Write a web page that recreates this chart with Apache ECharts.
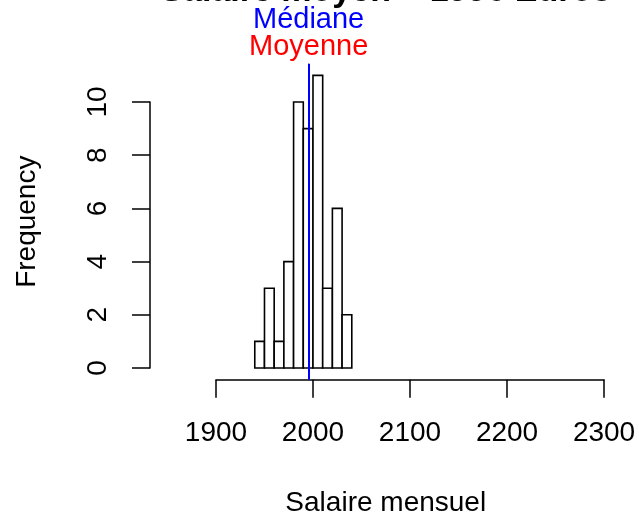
<!DOCTYPE html>
<html>
<head>
<meta charset="utf-8">
<script src="https://cdn.jsdelivr.net/npm/echarts@6/dist/echarts.min.js"></script>
<style>
  html, body { margin: 0; padding: 0; background: #fff; }
  #chart { width: 639px; height: 515px; }
</style>
</head>
<body>
<div id="chart"></div>
<script>
// Histogram of monthly salaries (bins of 10 euros)
const binEdges = [1940, 1950, 1960, 1970, 1980, 1990, 2000, 2010, 2020, 2030, 2040];
const counts = [1, 3, 1, 4, 10, 9, 11, 3, 6, 2];
const meanSalaire = 1995.5;
const medianSalaire = 1995.5;
const xTicks = [1900, 2000, 2100, 2200, 2300];
const yTicks = [0, 2, 4, 6, 8, 10];

const FONT = '"Liberation Sans", Arial, Helvetica, sans-serif';

const histData = counts.map((c, i) => [binEdges[i], binEdges[i + 1], c]);

// plotting region (data range with 4% padding, like base graphics)
const xLo = 1850, xHi = 2300;
const xPad = (xHi - xLo) * 0.04;
const yLo = 0, yHi = Math.max(...counts);
const yPad = (yHi - yLo) * 0.04;

const plot = { left: 150, right: 17.5, top: 63.7, bottom: 135.3 };
const plotW = 639 - plot.left - plot.right;
const plotH = 515 - plot.top - plot.bottom;
const px = v => plot.left + (v - (xLo - xPad)) / ((xHi + xPad) - (xLo - xPad)) * plotW;
const py = v => plot.top + plotH - (v - (yLo - yPad)) / ((yHi + yPad) - (yLo - yPad)) * plotH;

const chart = echarts.init(document.getElementById('chart'), null, { renderer: 'canvas' });

const axisLineStyle = { color: '#000', width: 1.5 };
const fixedGrid = { outerBoundsMode: 'none', containLabel: false };

chart.setOption({
  animation: false,
  backgroundColor: '#fff',
  graphic: [{
    type: 'text',
    x: plot.left + plotW / 2,
    y: 9,
    style: {
      text: 'Salaire moyen = ' + Math.round(meanSalaire) + ' Euros',
      font: 'bold 34px ' + FONT,
      fill: '#000',
      textAlign: 'center',
      textVerticalAlign: 'bottom'
    }
  }],
  grid: [
    Object.assign({ left: plot.left, right: plot.right, top: plot.top, bottom: plot.bottom }, fixedGrid),
    // x axis spans only the tick range
    Object.assign({ left: px(xTicks[0]), width: px(xTicks[xTicks.length - 1]) - px(xTicks[0]), top: plot.top, bottom: plot.bottom }, fixedGrid),
    // y axis spans only the tick range
    Object.assign({ left: plot.left, width: 10, top: py(yTicks[yTicks.length - 1]), bottom: 515 - py(yTicks[0]) }, fixedGrid)
  ],
  xAxis: [
    {
      gridIndex: 0, type: 'value', min: xLo - xPad, max: xHi + xPad,
      axisLine: { show: false }, axisTick: { show: false }, axisLabel: { show: false }, splitLine: { show: false },
      name: 'Salaire mensuel', nameLocation: 'middle', nameGap: 110,
      nameTextStyle: { fontFamily: FONT, fontSize: 28, color: '#000' }
    },
    {
      gridIndex: 1, type: 'value', min: xTicks[0], max: xTicks[xTicks.length - 1], interval: 100,
      axisLine: { show: true, lineStyle: axisLineStyle },
      axisTick: { show: true, length: 18, lineStyle: axisLineStyle },
      axisLabel: { fontFamily: FONT, fontSize: 28, color: '#000', margin: 40, formatter: v => String(v) },
      splitLine: { show: false }
    },
    {
      gridIndex: 2, type: 'value', show: false, min: 0, max: 1
    }
  ],
  yAxis: [
    {
      gridIndex: 0, type: 'value', min: yLo - yPad, max: yHi + yPad,
      axisLine: { show: false }, axisTick: { show: false }, axisLabel: { show: false }, splitLine: { show: false },
      name: 'Frequency', nameLocation: 'middle', nameGap: 109, nameRotate: 90,
      nameTextStyle: { fontFamily: FONT, fontSize: 28, color: '#000' }
    },
    {
      gridIndex: 1, type: 'value', show: false, min: 0, max: 1
    },
    {
      gridIndex: 2, type: 'value', position: 'left', min: yTicks[0], max: yTicks[yTicks.length - 1], interval: 2,
      axisLine: { show: true, lineStyle: axisLineStyle },
      axisTick: { show: true, length: 18, lineStyle: axisLineStyle },
      axisLabel: { fontFamily: FONT, fontSize: 28, color: '#000', rotate: 90, margin: 38 },
      splitLine: { show: false }
    }
  ],
  series: [{
    type: 'custom',
    xAxisIndex: 0,
    yAxisIndex: 0,
    data: histData,
    renderItem: function (params, api) {
      const a = api.coord([api.value(0), api.value(2)]);
      const b = api.coord([api.value(1), 0]);
      return {
        type: 'rect',
        shape: { x: a[0], y: a[1], width: b[0] - a[0], height: b[1] - a[1] },
        style: { fill: '#fff', stroke: '#000', lineWidth: 1.6 }
      };
    },
    markLine: {
      silent: true,
      symbol: 'none',
      data: [
        {
          xAxis: meanSalaire,
          lineStyle: { color: '#ff0000', width: 1, type: 'solid' },
          label: { show: true, position: 'end', formatter: 'Moyenne', color: '#ff0000', fontFamily: FONT, fontSize: 29, distance: 2 }
        },
        {
          xAxis: medianSalaire,
          lineStyle: { color: '#0000ff', width: 2, type: 'solid' },
          label: { show: true, position: 'end', formatter: 'Médiane', color: '#0000ff', fontFamily: FONT, fontSize: 29, distance: 29 }
        }
      ]
    }
  }]
});
</script>
</body>
</html>
